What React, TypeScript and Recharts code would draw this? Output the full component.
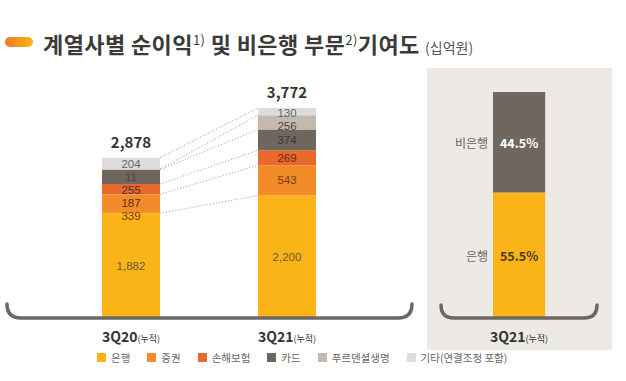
import React from "react";
import { BarChart, Bar, XAxis, YAxis, Rectangle } from "recharts";

const CATEGORIES = ["3Q20", "3Q21"];
const SERIES_NAMES = ["은행", "증권", "손해보험", "카드", "푸르덴셜생명", "기타(연결조정 포함)"];
const BANK = [1882, 2200];
const SECURITIES = [339, 543];
const INSURANCE = [187, 269];
const CARD = [255, 374];
const PRUDENTIAL = [11, 256];
const OTHERS = [204, 130];

const SHARE_CATEGORY = "3Q21";
const SHARE_NAMES = ["은행", "비은행"];
const SHARE_VALUES = [55.5, 44.5];

const KEYS = ["bank", "securities", "insurance", "card", "prudential", "others"];
const COLORS = ["#FBB417", "#F28C28", "#E9692C", "#6F665D", "#C3B9AE", "#DCDCDC"];
const LABEL_COLORS = ["#6B5A35", "#7A3B12", "#6A2A10", "#3A3632", "#4A4540", "#666666"];
const FONT = "'Noto Sans CJK KR', 'Noto Sans', sans-serif";
const NUM_FONT = "'Liberation Sans', Arial, sans-serif";

const SERIES = [BANK, SECURITIES, INSURANCE, CARD, PRUDENTIAL, OTHERS];
const data = CATEGORIES.map((name, i) => {
	const row: any = { name };
	KEYS.forEach((k, j) => (row[k] = SERIES[j][i]));
	return row;
});

const shareData = [{ name: SHARE_CATEGORY, bank: SHARE_VALUES[0], nonbank: SHARE_VALUES[1] }];

// distance between the two category centres (plot width / 2)
const STEP = 156;

const sum = (arr: number[]) => arr.reduce((a, b) => a + b, 0);

const makeShape = (k: number) => (props: any) => {
	const { x, y, width, height, payload, index } = props;
	const vals = KEYS.map((key) => payload[key]);
	const ppu = height / vals[k];
	const base = y + height + sum(vals.slice(0, k)) * ppu;

	// label positions, pushed apart top-down so small segments stay readable
	const centers = vals.map((v, j) => base - (sum(vals.slice(0, j)) + v / 2) * ppu);
	const pos: number[] = [];
	for (let j = vals.length - 1; j >= 0; j--) {
		pos[j] = j === vals.length - 1 ? centers[j] + 1 : Math.max(centers[j], pos[j + 1] + 13);
	}

	let connector = null;
	if (index === 0) {
		const next = KEYS.map((key) => data[1][key]);
		const yNext = base - sum(next.slice(0, k + 1)) * ppu;
		connector = (
			<line
				x1={x + width}
				y1={y}
				x2={x + STEP}
				y2={yNext}
				stroke="#9a9a9a"
				strokeWidth={1}
				strokeDasharray="1 2"
			/>
		);
	}

	const total = sum(vals);
	return (
		<g>
			<Rectangle x={x} y={y} width={width} height={height} fill={COLORS[k]} />
			{connector}
			<text
				x={x + width / 2}
				y={pos[k]}
				textAnchor="middle"
				dominantBaseline="central"
				fontSize={11.5}
				fontFamily={NUM_FONT}
				fill={LABEL_COLORS[k]}
			>
				{vals[k].toLocaleString("en-US")}
			</text>
			{k === KEYS.length - 1 && (
				<text
					x={x + width / 2}
					y={y - 10}
					textAnchor="middle"
					fontSize={15}
					fontWeight={600}
					fontFamily={FONT}
					fill="#333"
				>
					{total.toLocaleString("en-US")}
				</text>
			)}
		</g>
	);
};

const CategoryTick = ({ x, y, payload }: any) => (
	<text x={x} y={y + 16} textAnchor="middle" fontFamily={FONT} fill="#333">
		<tspan fontSize={14} fontWeight={600}>{payload.value}</tspan>
		<tspan fontSize={9}>(누적)</tspan>
	</text>
);

const makeShareShape = (k: number) => (props: any) => {
	const { x, y, width, height } = props;
	const cy = y + height / 2;
	return (
		<g>
			<Rectangle x={x} y={y} width={width} height={height} fill={k === 0 ? COLORS[0] : COLORS[3]} />
			<text x={x - 5} y={cy} textAnchor="end" dominantBaseline="central" fontSize={12} fontFamily={FONT} fill="#666">
				{SHARE_NAMES[k]}
			</text>
			<text
				x={x + width / 2}
				y={cy}
				textAnchor="middle"
				dominantBaseline="central"
				fontSize={12.5}
				fontWeight={700}
				fontFamily={FONT}
				fill={k === 0 ? "#4A3A1A" : "#ffffff"}
			>
				{SHARE_VALUES[k].toFixed(1)}%
			</text>
		</g>
	);
};

export default function App() {
	return (
		<div style={{ position: "absolute", left: 0, top: 0, width: 626, height: 381, background: "#fff", fontFamily: FONT, overflow: "hidden" }}>
			{/* title */}
			<div
				style={{
					position: "absolute",
					left: 5,
					top: 37,
					width: 28,
					height: 10,
					borderRadius: 5,
					background: "linear-gradient(to right, #EF7A22, #F59A20 55%, #FBB417)",
				}}
			/>
			<div style={{ position: "absolute", left: 43, top: 24, fontSize: 22, fontWeight: 700, color: "#3a3a3a", whiteSpace: "nowrap", lineHeight: "32px", letterSpacing: 0.4 }}>
				계열사별 순이익<sup style={{ fontSize: 13, fontWeight: 400 }}>1)</sup> 및 비은행 부문<sup style={{ fontSize: 13, fontWeight: 400 }}>2)</sup>기여도{" "}
				<span style={{ fontSize: 14, fontWeight: 400, color: "#555", letterSpacing: 0 }}>(십억원)</span>
			</div>

			{/* left chart */}
			<div style={{ position: "absolute", left: 0, top: 0 }}>
				<BarChart width={420} height={350} data={data} margin={{ top: 108, right: 55, bottom: 0, left: 53 }}>
					<XAxis dataKey="name" axisLine={false} tickLine={false} height={32} tick={<CategoryTick />} interval={0} />
					<YAxis hide domain={[0, "dataMax"]} />
					{KEYS.map((k, i) => (
						<Bar key={k} dataKey={k} stackId="a" barSize={58} fill={COLORS[i]} shape={makeShape(i)} isAnimationActive={false} />
					))}
				</BarChart>
			</div>

			{/* right panel */}
			<div style={{ position: "absolute", left: 427, top: 68, width: 185, height: 282, background: "#EDEAE5" }}>
				<BarChart width={185} height={282} data={shareData} margin={{ top: 24, right: 64, bottom: 0, left: 63 }}>
					<XAxis dataKey="name" axisLine={false} tickLine={false} height={32} tick={<CategoryTick />} />
					<YAxis hide domain={[0, 100]} />
					<Bar dataKey="bank" stackId="s" barSize={58} fill={COLORS[0]} shape={makeShareShape(0)} isAnimationActive={false} />
					<Bar dataKey="nonbank" stackId="s" barSize={58} fill={COLORS[3]} shape={makeShareShape(1)} isAnimationActive={false} />
				</BarChart>
			</div>

			{/* brackets */}
			<svg width={626} height={381} style={{ position: "absolute", left: 0, top: 0, pointerEvents: "none" }}>
				<path d="M 7 304 Q 7 318 21 318 L 398 318 Q 412 318 412 304" fill="none" stroke="#6D6761" strokeWidth={3.5} strokeLinecap="round" />
				<path d="M 441 305 Q 441 318 454 318 L 584 318 Q 597 318 597 305" fill="none" stroke="#6D6761" strokeWidth={3.5} strokeLinecap="round" />
			</svg>

			{/* legend */}
			<div style={{ position: "absolute", left: 97, top: 350, display: "flex", gap: 17, fontSize: 10.5, color: "#666", alignItems: "center", whiteSpace: "nowrap" }}>
				{SERIES_NAMES.map((n, i) => (
					<div key={n} style={{ display: "flex", alignItems: "center" }}>
						<span style={{ display: "inline-block", width: 9, height: 9, background: COLORS[i], marginRight: 5 }} />
						{n}
					</div>
				))}
			</div>
		</div>
	);
}
